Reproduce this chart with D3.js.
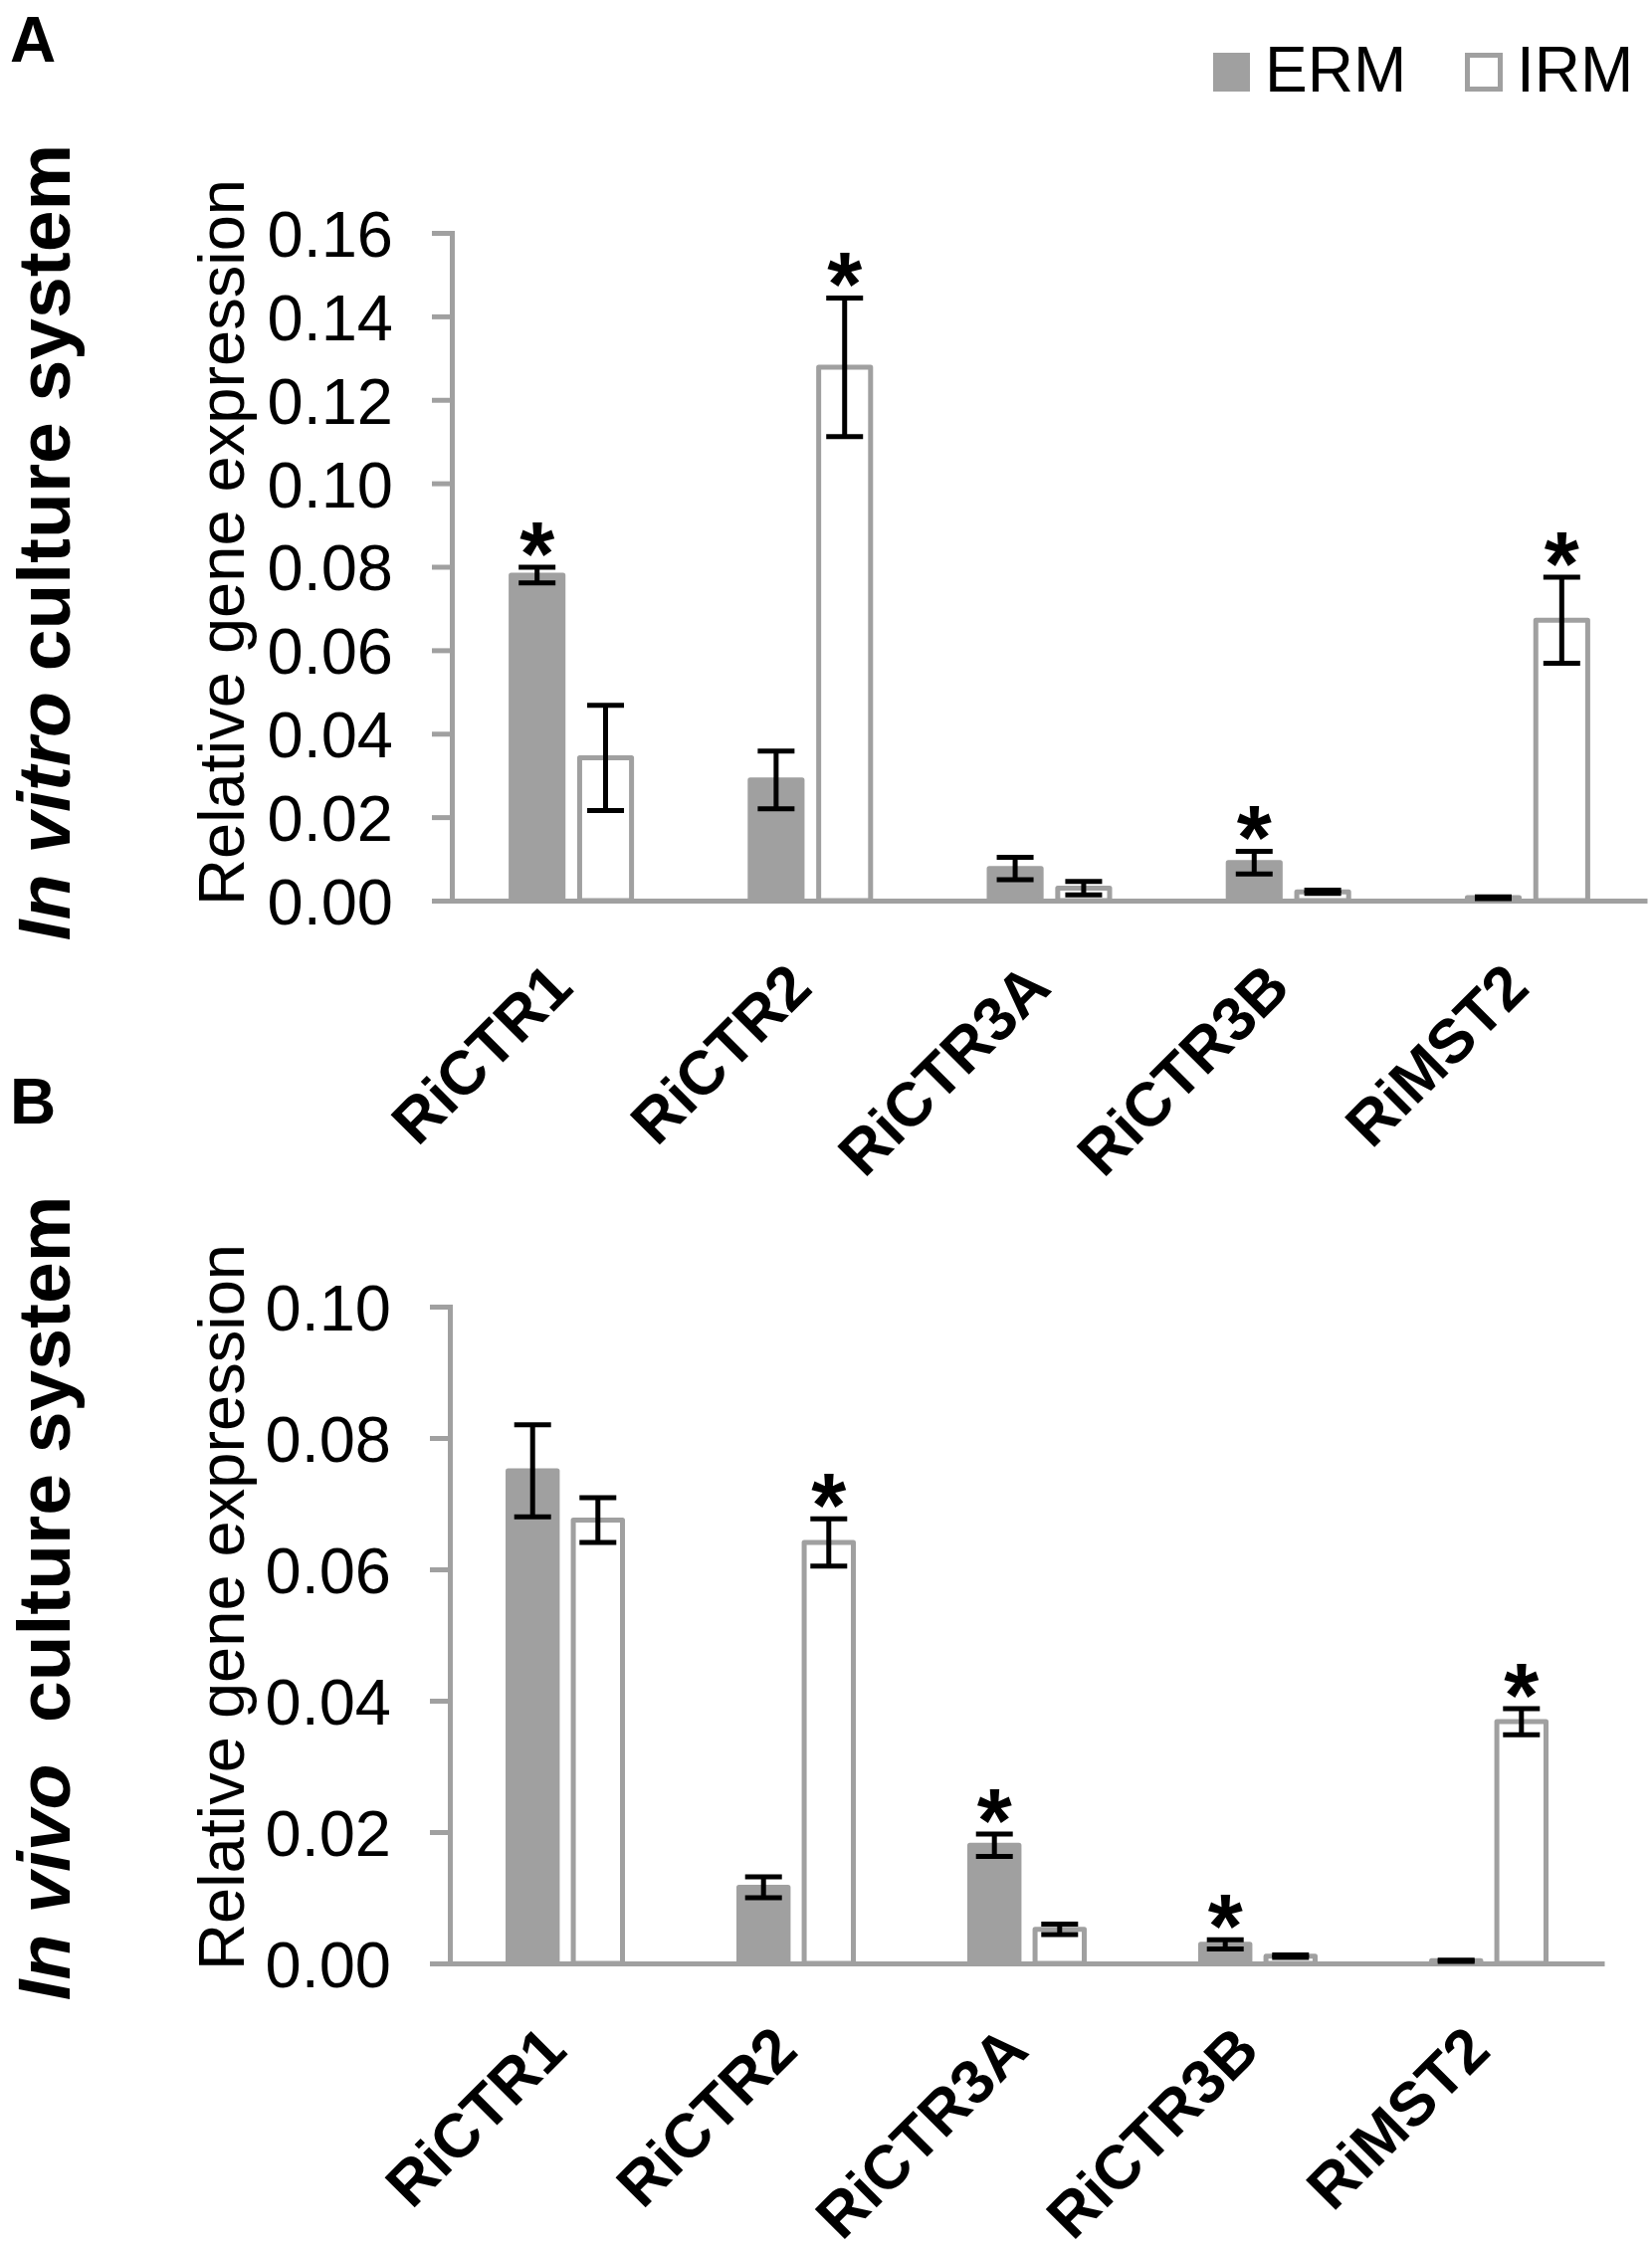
<!doctype html>
<html>
  <head>
    <meta charset="utf-8">
    <title>Relative gene expression ERM / IRM</title>
    <script src="https://cdnjs.cloudflare.com/ajax/libs/d3/7.8.5/d3.min.js"></script>
    <style>
      body { margin: 0; background: #fff; }
      svg { display: block; font-family: "Liberation Sans", Arial, sans-serif; }
    </style>
  </head>
  <body>
    <div id="chart"></div>
    <script>
      // data
      const genes = ['RiCTR1', 'RiCTR2', 'RiCTR3A', 'RiCTR3B', 'RiMST2'];
      const series = ['ERM', 'IRM'];

      // panel A - in vitro
      const ticksA = [0, 0.02, 0.04, 0.06, 0.08, 0.10, 0.12, 0.14, 0.16];
      const ermA = [0.0780, 0.0289, 0.0077, 0.0091, 0.0007];
      const ermErrA = [0.0019, 0.0069, 0.0027, 0.0027, 0.0002];
      const irmA = [0.0342, 0.1278, 0.0030, 0.0021, 0.0672];
      const irmErrA = [0.0126, 0.0166, 0.0016, 0.0004, 0.0103];
      const starsA = [['RiCTR1', 'ERM'], ['RiCTR2', 'IRM'], ['RiCTR3B', 'ERM'], ['RiMST2', 'IRM']];

      // panel B - in vivo
      const ticksB = [0, 0.02, 0.04, 0.06, 0.08, 0.10];
      const ermB = [0.0750, 0.0116, 0.0180, 0.0029, 0.0004];
      const ermErrB = [0.0070, 0.0016, 0.0017, 0.0007, 0.0001];
      const irmB = [0.0675, 0.0641, 0.0052, 0.0011, 0.0368];
      const irmErrB = [0.0034, 0.0036, 0.0008, 0.0002, 0.0020];
      const starsB = [['RiCTR2', 'IRM'], ['RiCTR3A', 'ERM'], ['RiCTR3B', 'ERM'], ['RiMST2', 'IRM']];

      const grey = '#a0a0a0';
      const svg = d3.select('#chart').append('svg')
        .attr('width', 1660)
        .attr('height', 2262);

      function panel(opt) {
        const y = d3.scaleLinear().domain([0, d3.max(opt.ticks)]).range([opt.y0, opt.y1]);
        const x0 = d3.scaleBand().domain(genes).range([opt.x0, opt.x1]);
        const x1 = d3.scaleBand().domain(series)
          .range([-opt.pair / 2, opt.pair / 2]).paddingInner(0.17);

        const rows = [];
        genes.forEach((g, i) => {
          rows.push({gene: g, s: 'ERM', v: opt.erm[i], e: opt.ermErr[i]});
          rows.push({gene: g, s: 'IRM', v: opt.irm[i], e: opt.irmErr[i]});
        });
        const cx = d => x0(d.gene) + x0.bandwidth() / 2 + x1(d.s) + x1.bandwidth() / 2;

        const g = svg.append('g');

        // bars
        g.selectAll('rect.bar').data(rows).join('rect')
          .attr('class', 'bar')
          .attr('x', d => cx(d) - x1.bandwidth() / 2 + 2.5)
          .attr('width', x1.bandwidth() - 5)
          .attr('y', d => y(d.v))
          .attr('height', d => y(0) - y(d.v))
          .attr('fill', d => d.s === 'ERM' ? grey : '#fff')
          .attr('stroke', grey)
          .attr('stroke-width', 5)
          .attr('stroke-linejoin', 'round');

        // y axis
        const yAxis = g.append('g')
          .attr('transform', `translate(${opt.x0},0)`)
          .call(d3.axisLeft(y).tickValues(opt.ticks).tickFormat(d3.format('.2f'))
            .tickSize(20).tickPadding(39));
        yAxis.selectAll('path, line').attr('stroke', grey).attr('stroke-width', 5);
        yAxis.selectAll('text')
          .attr('font-size', 65)
          .attr('fill', '#000')
          .attr('dy', '0.36em')
          .style('font-family', '"Liberation Sans", Arial, sans-serif');

        // x axis
        const xAxis = g.append('g')
          .attr('transform', `translate(0,${opt.y0})`)
          .call(d3.axisBottom(x0).tickSize(0).tickSizeOuter(0));
        xAxis.select('.domain').attr('stroke', grey).attr('stroke-width', 5);
        xAxis.selectAll('text')
          .attr('x', 0).attr('y', 0).attr('dy', 0)
          .attr('transform', 'translate(4,90) rotate(-45)')
          .attr('text-anchor', 'end')
          .attr('font-size', 62)
          .attr('font-weight', 'bold')
          .attr('fill', '#000')
          .style('font-family', '"Liberation Sans", Arial, sans-serif');

        // error bars
        const err = g.append('g').attr('stroke', '#000').attr('stroke-width', 5);
        err.selectAll('line.v').data(rows).join('line')
          .attr('class', 'v')
          .attr('x1', cx).attr('x2', cx)
          .attr('y1', d => y(d.v + d.e)).attr('y2', d => y(d.v - d.e));
        err.selectAll('line.cap').data(rows.flatMap(d => [
            {d: d, val: d.v + d.e}, {d: d, val: d.v - d.e}]))
          .join('line')
          .attr('class', 'cap')
          .attr('x1', c => cx(c.d) - 18.5).attr('x2', c => cx(c.d) + 18.5)
          .attr('y1', c => y(c.val)).attr('y2', c => y(c.val));

        // significance stars
        const starRows = rows.filter(d => opt.stars.some(s => s[0] === d.gene && s[1] === d.s));
        g.selectAll('text.star').data(starRows).join('text')
          .attr('class', 'star')
          .attr('x', cx)
          .attr('y', d => y(d.v + d.e) - 20 + 0.42 * 90)
          .attr('text-anchor', 'middle')
          .attr('font-size', 90)
          .attr('font-weight', 'bold')
          .text('*');

        // y title
        g.append('text')
          .attr('transform', `translate(245,${opt.titleY}) rotate(-90)`)
          .attr('text-anchor', 'middle')
          .attr('font-size', 65)
          .text('Relative gene expression');

        // system title
        const t = g.append('text')
          .attr('transform', `translate(70,${opt.sysY}) rotate(-90)`)
          .attr('text-anchor', 'middle')
          .attr('font-size', 75)
          .attr('font-weight', 'bold')
          .attr('xml:space', 'preserve');
        t.append('tspan').attr('font-style', 'italic').text(opt.sysItalic);
        t.append('tspan').text(opt.sysRest);

        // panel letter
        g.append('text')
          .attr('x', 10).attr('y', opt.letterY)
          .attr('font-size', 64)
          .attr('font-weight', 'bold')
          .text(opt.letter);
      }

      panel({
        letter: 'A', letterY: 62,
        ticks: ticksA, erm: ermA, ermErr: ermErrA, irm: irmA, irmErr: irmErrA, stars: starsA,
        x0: 454, x1: 1655, y0: 905, y1: 234, pair: 126,
        titleY: 545, sysY: 545, sysItalic: 'In vitro', sysRest: ' culture system'
      });

      panel({
        letter: 'B', letterY: 1129,
        ticks: ticksB, erm: ermB, ermErr: ermErrB, irm: irmB, irmErr: irmErrB, stars: starsB,
        x0: 452, x1: 1612, y0: 1973, y1: 1313, pair: 120,
        titleY: 1615, sysY: 1606, sysItalic: 'In vivo', sysRest: '  culture system'
      });

      // legend
      const legend = svg.append('g');
      const legX = d3.scaleOrdinal().domain(series).range([1219, 1472]);
      legend.selectAll('rect').data(series).join('rect')
        .attr('x', d => d === 'ERM' ? legX(d) : legX(d) + 2.5)
        .attr('y', d => d === 'ERM' ? 53 : 55.5)
        .attr('width', d => d === 'ERM' ? 37 : 33)
        .attr('height', d => d === 'ERM' ? 39 : 34)
        .attr('fill', d => d === 'ERM' ? grey : '#fff')
        .attr('stroke', grey)
        .attr('stroke-width', d => d === 'ERM' ? 0 : 5);
      legend.selectAll('text').data(series).join('text')
        .attr('x', d => legX(d) + 52)
        .attr('y', 92)
        .attr('font-size', 64)
        .text(d => d);
    </script>
  </body>
</html>
